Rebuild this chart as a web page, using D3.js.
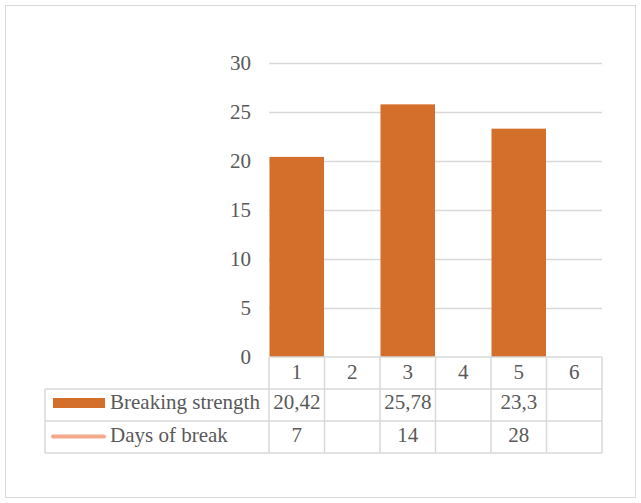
<!DOCTYPE html>
<html><head><meta charset="utf-8">
<script src="https://cdn.jsdelivr.net/npm/d3@7"></script>
</head><body style="margin:0;background:#fff">
<script>
const categories = ["1","2","3","4","5","6"];
const breakingStrength = [20.42, null, 25.78, null, 23.3, null];
const breakingLabels = ["20,42", "", "25,78", "", "23,3", ""];
const daysOfBreak = ["7", "", "14", "", "28", ""];
const seriesNames = ["Breaking strength", "Days of break"];
const yTicks = [0, 5, 10, 15, 20, 25, 30];

const W = 641, H = 503;
const FF = '"Times New Roman", "Liberation Serif", serif';
const svg = d3.select("body").append("svg").attr("width", W).attr("height", H)
  .style("display", "block").style("font-family", FF);
const fs = "21px";
const txt = "#595959", grid = "#d9d9d9";

svg.append("rect").attr("x", 5.5).attr("y", 5.5).attr("width", 630).attr("height", 492)
  .attr("fill", "#fff").attr("stroke", "#d9d9d9");

const x = d3.scaleBand().domain(categories).range([269, 602]).padding(0);
const y = d3.scaleLinear().domain([0, 30]).range([357, 63]);

// gridlines
svg.append("g").selectAll("line").data(yTicks.filter(d => d > 0)).join("line")
  .attr("x1", 269).attr("x2", 602)
  .attr("y1", d => Math.round(y(d)) + 0.5).attr("y2", d => Math.round(y(d)) + 0.5)
  .attr("stroke", grid).attr("stroke-width", 1.5);

// y labels
svg.append("g").selectAll("text").data(yTicks).join("text")
  .attr("x", 251).attr("y", d => y(d) + 7)
  .attr("text-anchor", "end")
  .style("font-family", FF).style("font-size", fs)
  .attr("fill", txt).text(d => d);

// bars
const barColor = "#d46e2b";
svg.append("g").selectAll("rect").data(categories.map((c, i) => ({c, v: breakingStrength[i]})).filter(d => d.v != null))
  .join("rect")
  .attr("x", d => x(d.c) + 0.5).attr("width", x.bandwidth() - 1)
  .attr("y", d => y(d.v)).attr("height", d => y(0) - y(d.v))
  .attr("fill", barColor);

// data table
const rowTop = [357, 389, 421, 453];
const tg = svg.append("g").attr("stroke", grid).attr("stroke-width", 1.5).attr("fill", "none");
tg.append("line").attr("x1", 269).attr("x2", 602).attr("y1", rowTop[0]).attr("y2", rowTop[0]);
[1, 2, 3].forEach(i => tg.append("line").attr("x1", 45).attr("x2", 602).attr("y1", rowTop[i]).attr("y2", rowTop[i]));
tg.append("line").attr("x1", 45).attr("x2", 45).attr("y1", rowTop[1]).attr("y2", rowTop[3]);
categories.forEach(c => tg.append("line").attr("x1", x(c)).attr("x2", x(c)).attr("y1", rowTop[0]).attr("y2", rowTop[3]));
tg.append("line").attr("x1", 602).attr("x2", 602).attr("y1", rowTop[0]).attr("y2", rowTop[3]);

const cellText = (arr, row, dy) => svg.append("g").selectAll("text").data(categories.map((c, i) => ({c, t: arr[i]}))).join("text")
  .attr("x", d => x(d.c) + x.bandwidth() / 2).attr("y", rowTop[row] + dy)
  .attr("text-anchor", "middle")
  .style("font-family", FF).style("font-size", fs)
  .attr("fill", txt).text(d => d.t);
cellText(categories, 0, 22);
cellText(breakingLabels, 1, 20);
cellText(daysOfBreak, 2, 21);

// legend keys
svg.append("rect").attr("x", 53).attr("y", 398).attr("width", 52).attr("height", 10).attr("fill", barColor);
svg.append("line").attr("x1", 53).attr("x2", 104).attr("y1", 436.5).attr("y2", 436.5)
  .attr("stroke", "#f4a98a").attr("stroke-width", 4).attr("stroke-linecap", "round");
svg.append("g").selectAll("text").data(seriesNames).join("text")
  .attr("x", 110).attr("y", (d, i) => rowTop[i + 1] + 20 + i)
  .style("font-family", FF).style("font-size", fs)
  .attr("fill", txt).text(d => d);
</script>
</body></html>
